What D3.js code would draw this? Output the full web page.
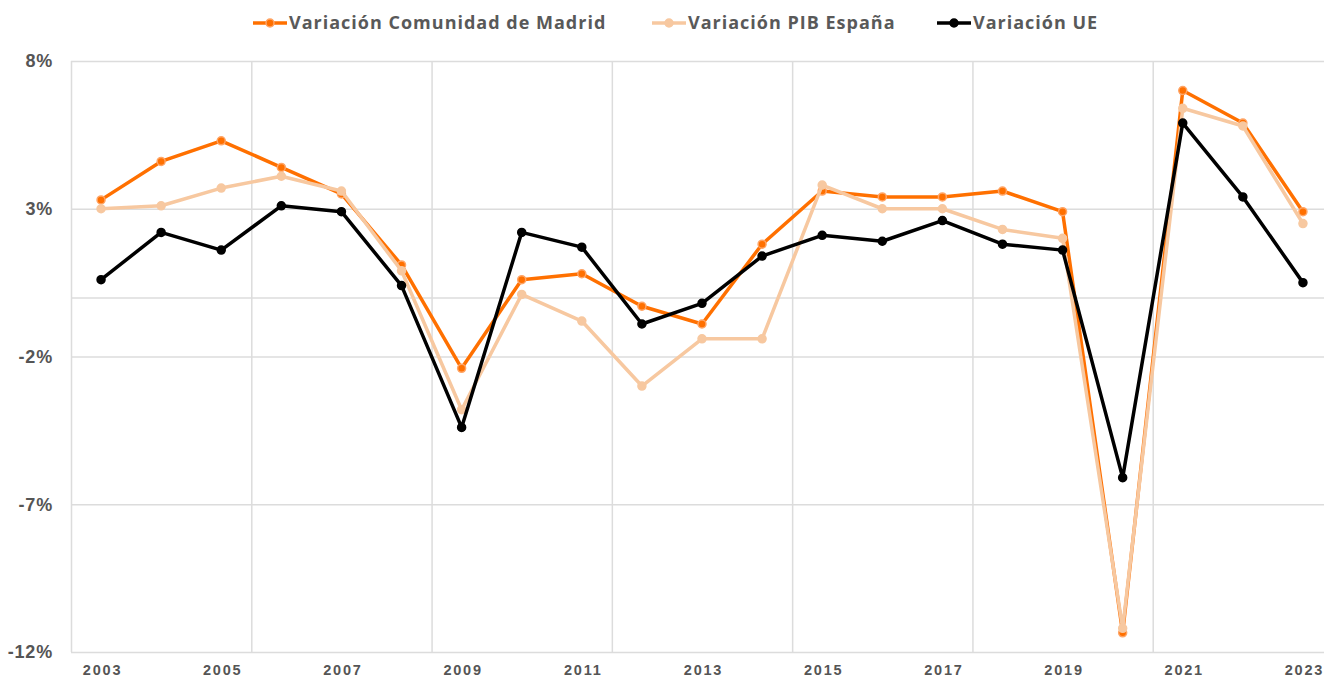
<!DOCTYPE html>
<html>
<head>
<meta charset="utf-8">
<script src="https://cdn.jsdelivr.net/npm/d3@7"></script>
<style>
  body { margin: 0; background: #fff; }
  svg { display: block; font-family: "Open Sans", sans-serif; }
  .grid line { stroke: #dcdcdc; stroke-width: 1.5; }
  .grid .domain { display: none; }
  .ylab text { fill: #555; font-size: 18px; font-weight: 700; letter-spacing: 0.8px; }
  .xlab text { fill: #555; font-size: 14.5px; font-weight: 700; letter-spacing: 1.8px; }
  .legend text { fill: #595959; font-size: 18px; font-weight: 700; letter-spacing: 1px; }
</style>
</head>
<body>
<svg width="1324" height="678"></svg>
<script>
const years = d3.range(2003, 2024);
const madrid = [3.3, 4.6, 5.3, 4.4, 3.5, 1.1, -2.4, 0.6, 0.8, -0.3, -0.9, 1.8, 3.6, 3.4, 3.4, 3.6, 2.9, -11.35, 7.0, 5.9, 2.9];
const spain  = [3.0, 3.1, 3.7, 4.1, 3.6, 0.9, -3.8, 0.1, -0.8, -3.0, -1.4, -1.4, 3.8, 3.0, 3.0, 2.3, 2.0, -11.2, 6.4, 5.8, 2.5];
const ue     = [0.6, 2.2, 1.6, 3.1, 2.9, 0.4, -4.4, 2.2, 1.7, -0.9, -0.2, 1.4, 2.1, 1.9, 2.6, 1.8, 1.6, -6.1, 5.9, 3.4, 0.5];
const yTicks = [8, 3, 0, -2, -7, -12];
const yLabels = [8, 3, -2, -7, -12];
const xLabels = [2003, 2005, 2007, 2009, 2011, 2013, 2015, 2017, 2019, 2021, 2023];
const xGrid = [2002.5, 2005.5, 2008.5, 2011.5, 2014.5, 2017.5, 2020.5];

const series = [
  { name: "Variación Comunidad de Madrid", values: madrid, color: "#ff7000", ring: "#ffa566" },
  { name: "Variación PIB España", values: spain, color: "#f7c8a0", ring: "#f7c8a0" },
  { name: "Variación UE", values: ue, color: "#000000", ring: "#000000" }
];

const svg = d3.select("svg"),
    width = +svg.attr("width"),
    height = +svg.attr("height");

const x = d3.scaleLinear().domain([2002.5, 2023.5]).range([71, 1333]);
const y = d3.scaleLinear().domain([-12, 8]).range([652, 61]);

// horizontal grid
svg.append("g")
    .attr("class", "grid")
    .attr("transform", "translate(71,0)")
    .call(d3.axisRight(y).tickValues(yTicks).tickSize(width - 71).tickFormat(""));

// vertical grid
svg.append("g")
    .attr("class", "grid")
    .attr("transform", "translate(0,61)")
    .call(d3.axisBottom(x).tickValues(xGrid).tickSize(652 - 61).tickFormat(""));

// y labels
svg.append("g")
    .attr("class", "ylab")
    .attr("transform", "translate(56,0)")
    .call(d3.axisLeft(y).tickValues(yLabels).tickSize(0).tickFormat(d => d + "%"))
    .call(g => g.select(".domain").remove());

// x labels
svg.append("g")
    .attr("class", "xlab")
    .attr("transform", "translate(1,662)")
    .call(d3.axisBottom(x).tickValues(xLabels).tickSize(0).tickFormat(d3.format("d")))
    .call(g => g.select(".domain").remove());

const line = d3.line()
    .x((d, i) => x(years[i]))
    .y(d => y(d));

series.forEach(s => {
    const g = svg.append("g");
    g.append("path")
        .datum(s.values)
        .attr("fill", "none")
        .attr("stroke", s.color)
        .attr("stroke-width", 3.5)
        .attr("stroke-linejoin", "round")
        .attr("d", line);
    g.selectAll("circle")
        .data(s.values)
        .enter().append("circle")
        .attr("cx", (d, i) => x(years[i]))
        .attr("cy", d => y(d))
        .attr("r", 4)
        .attr("fill", s.color)
        .attr("stroke", s.ring)
        .attr("stroke-width", 1.5);
});

// legend
const legendPos = [253, 652, 937];
const legend = svg.append("g")
    .attr("class", "legend")
    .selectAll("g")
    .data(series)
    .enter().append("g")
    .attr("transform", (d, i) => "translate(" + legendPos[i] + ",23)");

legend.append("line")
    .attr("x1", 0).attr("x2", 34)
    .attr("stroke", d => d.color)
    .attr("stroke-width", 3.5);

legend.append("circle")
    .attr("cx", 17)
    .attr("r", 4)
    .attr("fill", d => d.color)
    .attr("stroke", d => d.ring)
    .attr("stroke-width", 1.5);

legend.append("text")
    .attr("x", 36)
    .attr("dy", "0.35em")
    .text(d => d.name);
</script>
</body>
</html>
